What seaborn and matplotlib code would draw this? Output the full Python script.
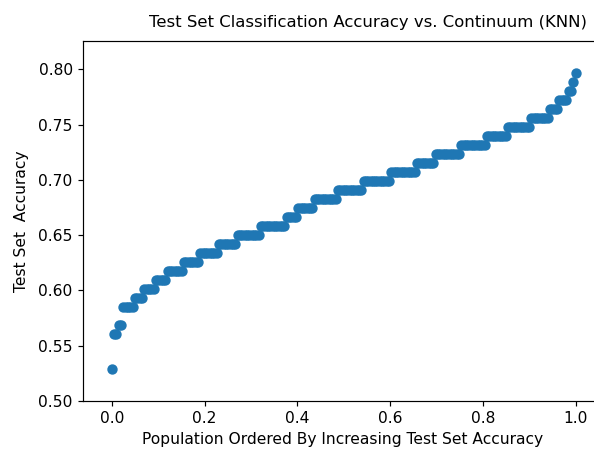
import matplotlib
matplotlib.use('Agg')

import numpy as np
import pandas as pd
import seaborn as sns
import matplotlib.pyplot as plt

# accuracy levels (sorted) and how many population members sit on each level
accuracy_levels = [0.5285, 0.5610, 0.5691, 0.5854, 0.5935, 0.6016, 0.6098,
                   0.6179, 0.6260, 0.6341, 0.6423, 0.6504, 0.6585, 0.6667,
                   0.6748, 0.6829, 0.6911, 0.6992, 0.7073, 0.7154, 0.7236,
                   0.7317, 0.7398, 0.7480, 0.7561, 0.7642, 0.7724, 0.7805,
                   0.7886, 0.7967]
level_counts = [1, 2, 2, 5, 4, 5, 5, 7, 7, 8,
                8, 10, 11, 5, 7, 10, 11, 12, 11, 8,
                11, 11, 9, 10, 8, 4, 4, 2, 1, 1]

accuracy = np.repeat(accuracy_levels, level_counts)
population = np.linspace(0, 1, len(accuracy))
df = pd.DataFrame({'population': population, 'accuracy': accuracy})

dpi = 106.56
fig = plt.figure(figsize=(594 / dpi, 450 / dpi), dpi=dpi)
ax = fig.add_axes([83 / 594, 49 / 450, 520 / 594, 360 / 450])

sns.scatterplot(data=df, x='population', y='accuracy', color='#1f77b4',
                s=36, edgecolor='#1f77b4', linewidth=1.0, ax=ax)

ax.set_xlim(-0.062, 1.059)
ax.set_ylim(0.5, 0.8256)
ax.set_yticks([0.50, 0.55, 0.60, 0.65, 0.70, 0.75, 0.80])
ax.tick_params(labelsize=10.5)
# original figure was cropped on the right, so its right spine is not shown
ax.spines['right'].set_visible(False)
ax.set_title("Test Set Classification Accuracy vs. Continuum (KNN)",
             fontsize=11.2, x=0.548, pad=9.5)
ax.set_xlabel("Population Ordered By Increasing Test Set Accuracy", fontsize=10.5)
ax.set_ylabel("Test Set  Accuracy", fontsize=10.5, labelpad=6)

fig.savefig('out.png', dpi=dpi)
